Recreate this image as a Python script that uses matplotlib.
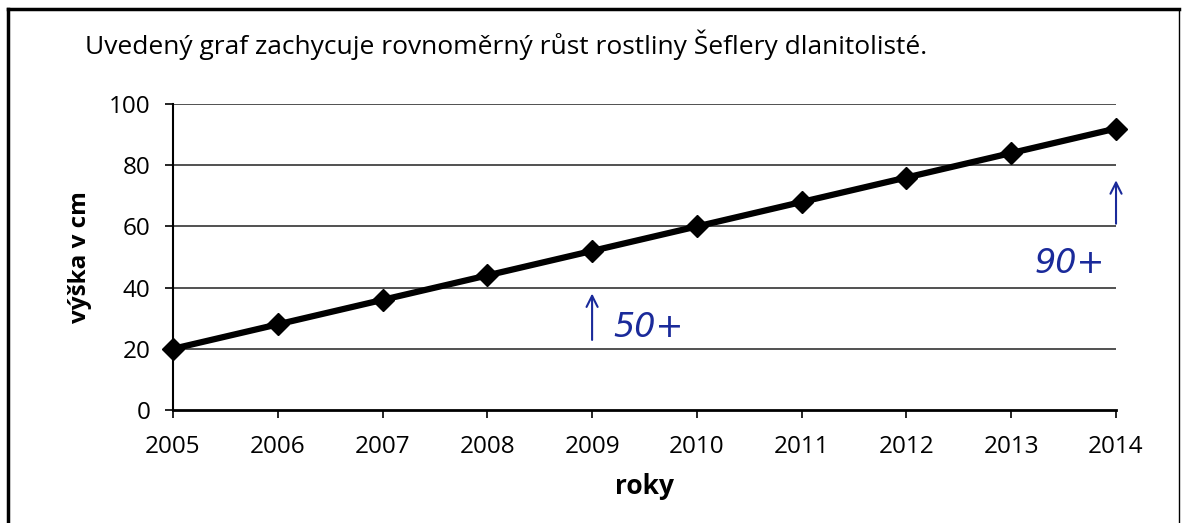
import matplotlib.pyplot as plt
from matplotlib.lines import Line2D

# data
years = [2005, 2006, 2007, 2008, 2009, 2010, 2011, 2012, 2013, 2014]
heights = [20, 28, 36, 44, 52, 60, 68, 76, 84, 92]
y_ticks = [0, 20, 40, 60, 80, 100]

plt.rcParams['font.family'] = ['Open Sans', 'DejaVu Sans']

fig = plt.figure(figsize=(11.87, 5.23), dpi=100)
ax = fig.add_axes([0.1457, 0.216, 0.7945, 0.585])

# gridlines
for v in y_ticks[1:]:
    ax.axhline(v, color='#222222', lw=1.1, zorder=1)

ax.plot(years, heights, color='black', lw=4.5, marker='D', markersize=11,
        clip_on=False, zorder=3)

ax.set_xlim(2005, 2014)
ax.set_ylim(0, 100)
ax.set_xticks(years)
ax.set_yticks(y_ticks)
ax.tick_params(axis='both', labelsize=17.5, direction='out', length=6, width=1.2, pad=10)
ax.tick_params(axis='x', pad=12)
for s in ['top', 'right']:
    ax.spines[s].set_visible(False)
ax.spines['left'].set_linewidth(1.5)
ax.spines['bottom'].set_linewidth(2)

ax.set_xlabel('roky', fontsize=19, fontweight='bold', labelpad=10)
ax.set_ylabel('výška v cm', fontsize=17.5, fontweight='bold', labelpad=12)

fig.text(0.072, 0.915, 'Uvedený graf zachycuje rovnoměrný růst rostliny Šeflery dlanitolisté.',
         fontsize=19, ha='left', va='center')

# handwritten notes
pen = '#1a2a9a'
ax.annotate('', xy=(2009, 39), xytext=(2009, 22),
            arrowprops=dict(arrowstyle='->,head_length=0.8,head_width=0.4', color=pen, lw=1.5))
ax.text(2009.2, 27, '50+', color=pen, fontsize=24, style='italic',
        family=['DejaVu Sans'], ha='left', va='center')
ax.annotate('', xy=(2014, 76), xytext=(2014, 60),
            arrowprops=dict(arrowstyle='->,head_length=0.8,head_width=0.4', color=pen, lw=1.5))
ax.text(2013.22, 48, '90+', color=pen, fontsize=24, style='italic',
        family=['DejaVu Sans'], ha='left', va='center')

# page frame
frame = dict(color='black', lw=2.5, transform=fig.transFigure)
fig.add_artist(Line2D([0.007, 0.993], [0.982, 0.982], **frame))
fig.add_artist(Line2D([0.007, 0.007], [0.0, 0.982], **frame))
fig.add_artist(Line2D([0.993, 0.993], [0.0, 0.982], color='black', lw=1, transform=fig.transFigure))

fig.savefig('out.png', dpi=100)
